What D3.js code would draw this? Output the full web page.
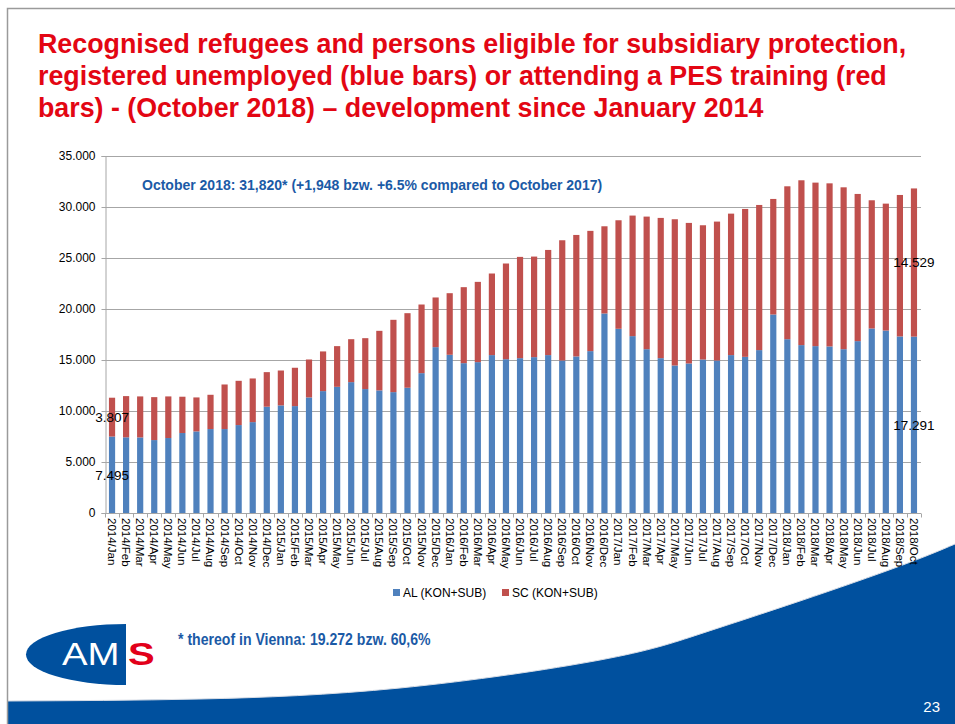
<!DOCTYPE html>
<html>
<head>
<meta charset="utf-8">
<script src="https://cdn.jsdelivr.net/npm/d3@7"></script>
<style>
    body { margin: 0; background: #fff; }
    #slide { width: 955px; height: 724px; }
    text { font-family: "Liberation Sans", Arial, sans-serif; }
</style>
</head>
<body>
<div id="slide"></div>
<script>

// categories: 2014/Jan .. 2018/Oct
const years = [2014, 2015, 2016, 2017, 2018];
const monthNames = ["Jan","Feb","Mar","Apr","May","Jun","Jul","Aug","Sep","Oct","Nov","Dec"];
const categories = years.flatMap(y => monthNames.map(m => y + "/" + m)).slice(0, 58);

// AL (KON+SUB) - registered unemployed (blue)
const alValues = [
    7495, 7420, 7410, 7150, 7350, 7840, 8000, 8230, 8230, 8620, 8910, 10420,
    10550, 10480, 11330, 11950, 12370, 12830, 12150, 12020, 11850, 12280, 13710, 16260,
    15510, 14690, 14790, 15480, 15080, 15180, 15280, 15480, 14950, 15350, 15870, 19560,
    18060, 17340, 16060, 15180, 14460, 14660, 15050, 14950, 15480, 15310, 15970, 19460,
    17040, 16460, 16360, 16330, 16060, 16850, 18090, 17890, 17310, 17291
];

// SC (KON+SUB) - attending a PES training (red)
const scValues = [
    3807, 4040, 4020, 4210, 4080, 3560, 3330, 3360, 4370, 4340, 4280, 3390,
    3420, 3760, 3720, 3890, 3990, 4210, 4990, 5840, 7090, 7310, 6730, 4870,
    6040, 7450, 7870, 8000, 9380, 9930, 9860, 10310, 11790, 11910, 11790, 8550,
    10640, 11820, 13000, 13750, 14340, 13780, 13160, 13620, 13870, 14500, 14230, 11330,
    14990, 16160, 16030, 15990, 15870, 14430, 12570, 12440, 13870, 14529
];

const seriesNames = ["AL (KON+SUB)", "SC (KON+SUB)"];
const seriesColors = ["#4F81BD", "#C0504D"];
const yTicks = [0, 5000, 10000, 15000, 20000, 25000, 30000, 35000];

const titleLines = [
    "Recognised refugees and persons eligible for subsidiary protection,",
    "registered unemployed (blue bars) or attending a PES training (red",
    "bars) - (October 2018) \u2013 development since January 2014"
];
const annotation = "October 2018: 31,820* (+1,948 bzw. +6.5% compared to October 2017)";
const footnote = "* thereof in Vienna: 19.272 bzw. 60,6%";

// bottom swoosh outline (decoration)
const swooshPoints = [[7,701],[200,699],[400,688],[600,660],[700,634],[800,601],[900,566],[955,544]];

class StackVis {

    constructor(parentElement) {
        this.parentElement = parentElement;
        this.initVis();
    }

    initVis() {
        let vis = this;

        vis.svg = d3.select("#" + vis.parentElement)
            .append("svg")
            .attr("width", 955)
            .attr("height", 724);

        vis.margin = {top: 156, left: 105, right: 34, bottom: 211};
        vis.width = 955 - vis.margin.left - vis.margin.right;
        vis.height = 724 - vis.margin.top - vis.margin.bottom;

        vis.drawSlide();

        vis.chart = vis.svg.append("g")
            .attr("transform", `translate(${vis.margin.left},${vis.margin.top})`);

        vis.x = d3.scaleBand()
            .domain(categories)
            .range([0, vis.width])
            .paddingInner(0.56)
            .paddingOuter(0.28);

        vis.y = d3.scaleLinear()
            .domain([0, 35000])
            .range([vis.height, 0]);

        vis.wrangleData();
    }

    drawSlide() {
        let vis = this;

        // blue swoosh at the bottom
        let line = d3.line().curve(d3.curveNatural);
        vis.svg.append("path")
            .attr("d", line(swooshPoints) + "L955,724L7,724Z")
            .attr("fill", "#00509E");
        vis.svg.append("path")
            .attr("d", line(swooshPoints))
            .attr("fill", "none")
            .attr("stroke", "#d8dde6")
            .attr("stroke-width", 1);

        // slide frame
        vis.svg.append("path")
            .attr("d", "M955,8.5H7.5V724")
            .attr("fill", "none")
            .attr("stroke", "#9a9a9a")
            .attr("stroke-width", 1.5);

        vis.svg.append("text")
            .attr("x", 940)
            .attr("y", 712)
            .attr("text-anchor", "end")
            .attr("fill", "#fff")
            .style("font-size", "15px")
            .text("23");

        // title
        vis.svg.append("g").selectAll("text")
            .data(titleLines)
            .enter()
            .append("text")
            .attr("x", 38)
            .attr("y", (d, i) => 53 + i * 32)
            .attr("fill", "#E30613")
            .style("font-size", "26.8px")
            .style("font-weight", "bold")
            .text(d => d);

        // AMS logo
        let logo = vis.svg.append("g");
        logo.append("path")
            .attr("d", "M126,624 A100,30.5 0 0 0 126,685 Z")
            .attr("fill", "#00509E");
        logo.append("text")
            .attr("transform", "translate(62,665) scale(1.2,1)")
            .attr("fill", "#fff")
            .style("font-size", "32px")
            .text("AM");
        logo.append("text")
            .attr("transform", "translate(128,665) scale(1.25,1)")
            .attr("fill", "#E2001A")
            .style("font-size", "32px")
            .style("font-weight", "bold")
            .text("S");

        vis.svg.append("text")
            .attr("transform", "translate(178,645) scale(0.88,1)")
            .attr("fill", "#1B5AA6")
            .style("font-size", "16px")
            .style("font-weight", "bold")
            .text(footnote);
    }

    wrangleData() {
        let vis = this;

        vis.displayData = categories.map((c, i) => ({cat: c, al: alValues[i], sc: scValues[i]}));
        vis.stacked = d3.stack().keys(["al", "sc"])(vis.displayData);

        vis.updateVis();
    }

    updateVis() {
        let vis = this;

        // gridlines
        vis.chart.append("g")
            .selectAll("line")
            .data(yTicks.slice(1))
            .enter()
            .append("line")
            .attr("x1", 0)
            .attr("x2", vis.width)
            .attr("y1", d => vis.y(d) + 0.5)
            .attr("y2", d => vis.y(d) + 0.5)
            .attr("stroke", "#a6a6a6")
            .attr("stroke-width", 1);

        // y axis
        let yAxis = d3.axisLeft(vis.y)
            .tickValues(yTicks)
            .tickSize(4)
            .tickPadding(6)
            .tickFormat(d => d === 0 ? "0" : d3.format(",.3f")(d / 1000).replace(",", "."));

        vis.chart.append("g")
            .attr("class", "y-axis")
            .attr("transform", "translate(0.5,0)")
            .call(yAxis)
            .call(g => g.selectAll("line, path").attr("stroke", "#a6a6a6"))
            .call(g => g.selectAll("text")
                .attr("fill", "#000")
                .style("font-size", "12px")
                .style("font-family", "'Liberation Sans', Arial, sans-serif"));

        // bars
        vis.chart.append("g")
            .selectAll("g")
            .data(vis.stacked)
            .enter()
            .append("g")
            .attr("fill", (d, i) => seriesColors[i])
            .selectAll("rect")
            .data(d => d)
            .enter()
            .append("rect")
            .attr("x", d => vis.x(d.data.cat))
            .attr("y", d => vis.y(d[1]))
            .attr("width", vis.x.bandwidth())
            .attr("height", d => vis.y(d[0]) - vis.y(d[1]));

        // x axis with ticks between categories
        vis.chart.append("g")
            .attr("class", "x-axis")
            .attr("transform", `translate(0,${vis.height + 0.5})`)
            .call(g => g.append("line")
                .attr("x1", 0).attr("x2", vis.width)
                .attr("stroke", "#a6a6a6"))
            .call(g => g.selectAll(".tk")
                .data(d3.range(categories.length + 1))
                .enter()
                .append("line")
                .attr("class", "tk")
                .attr("x1", i => Math.round(i * vis.width / categories.length) + 0.5)
                .attr("x2", i => Math.round(i * vis.width / categories.length) + 0.5)
                .attr("y1", 0).attr("y2", 4)
                .attr("stroke", "#a6a6a6"));

        vis.chart.append("g")
            .selectAll("text")
            .data(categories)
            .enter()
            .append("text")
            .attr("transform", d => `translate(${vis.x(d) + vis.x.bandwidth() / 2},${vis.height + 5}) rotate(90)`)
            .attr("dy", "0.35em")
            .style("font-size", "11.5px")
            .attr("fill", "#000")
            .text(d => d);

        // data labels on first and last bar
        let first = 0, last = categories.length - 1;
        let labels = [
            {i: first, v: alValues[first], base: 0},
            {i: first, v: scValues[first], base: alValues[first]},
            {i: last, v: alValues[last], base: 0},
            {i: last, v: scValues[last], base: alValues[last]}
        ];
        vis.chart.append("g")
            .selectAll("text")
            .data(labels)
            .enter()
            .append("text")
            .attr("x", d => vis.x(categories[d.i]) + vis.x.bandwidth() / 2)
            .attr("y", d => vis.y(d.base + d.v / 2))
            .attr("dy", "0.35em")
            .attr("text-anchor", "middle")
            .attr("fill", "#000")
            .style("font-size", "13.5px")
            .text(d => d3.format(",")(d.v).replace(",", "."));

        // annotation
        vis.chart.append("text")
            .attr("x", 37)
            .attr("y", 34)
            .attr("fill", "#1B5AA6")
            .style("font-size", "14px")
            .style("font-weight", "bold")
            .text(annotation);

        // legend
        let legend = vis.svg.append("g")
            .selectAll("g")
            .data(seriesNames)
            .enter()
            .append("g")
            .attr("transform", (d, i) => `translate(${393 + i * 109},589)`);

        legend.append("rect")
            .attr("width", 7)
            .attr("height", 7)
            .attr("fill", (d, i) => seriesColors[i]);

        legend.append("text")
            .attr("x", 10)
            .attr("y", 8)
            .attr("fill", "#000")
            .style("font-size", "12px")
            .text(d => d);
    }
}

new StackVis("slide");
</script>
</body>
</html>
